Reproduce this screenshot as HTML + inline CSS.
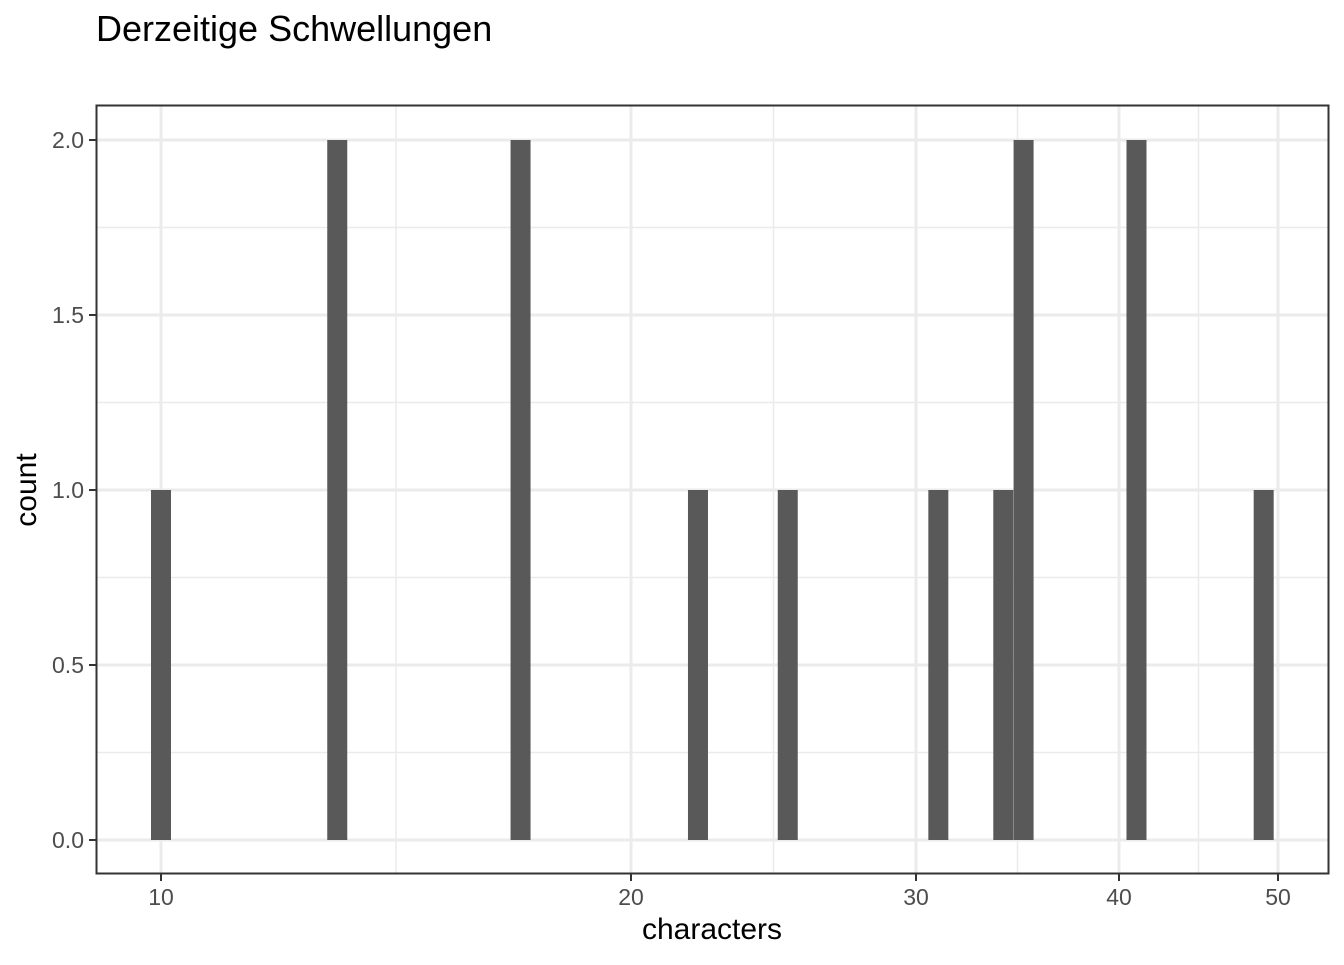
<!DOCTYPE html>
<html><head><meta charset="utf-8"><style>
body{margin:0;background:#fff;font-family:"Liberation Sans",Arial,sans-serif}
</style></head><body>
<svg id="chart" width="1344" height="960" xmlns="http://www.w3.org/2000/svg" font-family="Liberation Sans, Arial, sans-serif">
<text x="96" y="41" font-size="36" fill="#000">Derzeitige Schwellungen</text>
<g id="grid"></g><g id="bars"></g><g id="axes"></g>
<rect x="96.5" y="105.5" width="1232" height="768" fill="none" stroke="#333" stroke-width="2"/>
<text x="712" y="939" font-size="30" text-anchor="middle" fill="#000">characters</text>
<text transform="translate(36,490) rotate(-90)" font-size="30" text-anchor="middle" fill="#000">count</text>
</svg>
<script>
const xTicks=[10,20,30,40,50];
const xMinor=[15,25,35,45];
const yTicks=[0,0.5,1,1.5,2];
const yTickLabels=["0.0","0.5","1.0","1.5","2.0"];
const yMinor=[0.25,0.75,1.25,1.75];
const barX=[10,13.75,17.65,22.35,25.5,31.1,34.3,35.3,41.1,49.1];
const barCount=[1,2,2,1,1,1,1,2,2,1];
const xTickPx=[161,631,916,1119,1278];
function sx(v){
  for(let i=0;i<xTicks.length-1;i++){
    if(v<=xTicks[i+1]||i===xTicks.length-2){
      const t=(v-xTicks[i])/(xTicks[i+1]-xTicks[i]);
      return xTickPx[i]+t*(xTickPx[i+1]-xTickPx[i]);
    }
  }
}
function sy(v){return 840-v*350;}
const NS="http://www.w3.org/2000/svg";
function mk(tag,attrs,parent){const e=document.createElementNS(NS,tag);for(const k in attrs)e.setAttribute(k,attrs[k]);parent.appendChild(e);return e;}
const grid=document.getElementById('grid'),bars=document.getElementById('bars'),axes=document.getElementById('axes');
yMinor.forEach(v=>{const l=mk('line',{x1:97,x2:1328,y1:sy(v),y2:sy(v),stroke:'#ebebeb','stroke-width':1.5},grid);

});
xMinor.forEach(v=>{const l=mk('line',{x1:sx(v),x2:sx(v),y1:106,y2:873,stroke:'#ebebeb','stroke-width':1.5},grid);

});
yTicks.forEach((v,i)=>{const l=mk('line',{x1:97,x2:1328,y1:sy(v),y2:sy(v),stroke:'#ebebeb','stroke-width':3},grid);


const t=mk('line',{x1:89,x2:96,y1:sy(v),y2:sy(v),stroke:'#333','stroke-width':2},axes);


const tx=mk('text',{x:84,y:sy(v)+8,'font-size':23,'text-anchor':'end',fill:'#4d4d4d'},axes);tx.textContent=yTickLabels[i];

});
xTicks.forEach(v=>{const l=mk('line',{x1:sx(v),x2:sx(v),y1:106,y2:873,stroke:'#ebebeb','stroke-width':3},grid);


const t=mk('line',{x1:sx(v),x2:sx(v),y1:874,y2:881,stroke:'#333','stroke-width':2},axes);


const tx=mk('text',{x:sx(v),y:905,'font-size':23,'text-anchor':'middle',fill:'#4d4d4d'},axes);tx.textContent=v;

});
barX.forEach((v,i)=>{const c=sx(v);const b=mk('rect',{x:c-10,y:sy(barCount[i]),width:20,height:sy(0)-sy(barCount[i]),fill:'#595959'},bars);

});
</script>
</body></html>
